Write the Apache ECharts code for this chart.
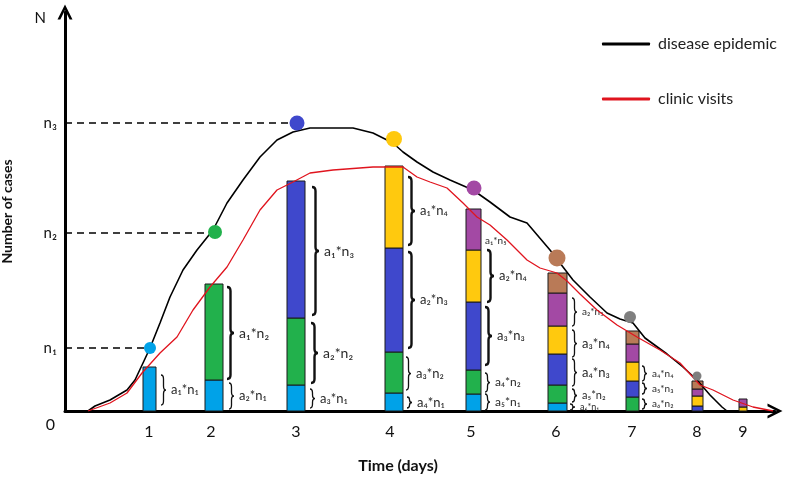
<!DOCTYPE html>
<html><head><meta charset="utf-8">
<script src="https://cdn.jsdelivr.net/npm/echarts@6/dist/echarts.min.js"></script>
<style>html,body{margin:0;padding:0;background:#fff}#c{width:787px;height:477px}</style>
</head><body><div id="c"></div>
<script>
// ---------- DATA (x: time units along the axis, y: number of cases) ----------
const days = ['1','2','3','4','5','6','7','8','9'];
const dayLabelPos = [84,146,231,325,406,491,567,632,678];
const barPos = [84.5,149,231,329,408.5,492.5,567.5,632.5,678];
// stacked segment heights per bar (bottom -> top)
const segCyan   = [44,31,26,18,17,8,0,0,0];
const segGreen  = [0,96,67,41,24,18,14,0,0];
const segBlue   = [0,0,137,104,68,31,16,5,0];
const segYellow = [0,0,0,82,52,28,19,10,4];
const segPurple = [0,0,0,0,41,33,18,7,8];
const segBrown  = [0,0,0,0,0,20,13,8,0];
// reference levels on the y axis
const levelLabels = ['n₁','n₂','n₃'];
const levelValues = [63,178,288];
// daily epidemic points (dots)
const peakPos   = [85,150,232,329,409,492,565,632];
const peakValue = [63,179,288,272,223,153,94,35];
// curves
const epidemicX = [23,30,45,62,70,78,85,95,105,118,132,148,162,178,195,212,228,245,265,288,308,328,338,352,368,385,408,425,445,462,485,498,508,525,542,555,568,580,602,618,632,645,657,662];
const epidemicY = [0,5,11,21,31,48,63,88,114,141,161,181,208,231,254,271,279,283,283,283,278,268,259,249,239,231,221,209,194,188,161,144,131,114,98,92,88,73,57,44,31,16,4,0];
const visitsX = [23,45,62,77,95,112,128,145,162,178,195,212,228,245,268,308,338,352,365,382,398,412,425,442,462,475,492,502,515,532,552,572,595,615,635,648,668,688,708];
const visitsY = [0,8,18,38,58,74,101,124,144,171,201,221,229,238,241,244,244,234,229,223,208,194,186,171,151,143,138,130,117,101,86,74,61,48,26,21,11,4,0];
// brace annotations: left x, top, bottom, text (top==bottom -> text only)
const braceX      = [96,162,164,247,246,245,343,343,341,342,420,422,420,420,420,507,507,507,507,505,577,577,577];
const braceTop    = [36,124,28,224,88,22,234,159,54,14,170,161,104,38,17,113,81,52,22,7,45,28,12];
const braceBottom = [6,32,2,96,28,3,166,63,21,3,170,109,46,19,1,85,54,25,9,1,30,17,2];
const braceText   = ['a₁*n₁','a₁*n₂','a₂*n₁','a₁*n₃','a₂*n₂','a₃*n₁','a₁*n₄','a₂*n₃','a₃*n₂','a₄*n₁','a₁*n₅','a₂*n₄','a₃*n₃','a₄*n₂','a₅*n₁','a₂*n₅','a₃*n₄','a₄*n₃','a₅*n₂','a₆*n₁','a₄*n₄','a₅*n₃','a₆*n₂'];

// ---------- STYLE ----------
const FONT = 'Lato, "Open Sans", sans-serif';
const barPixelWidth = [13,18,18,18,15,19,13,11,8];
const segColors = ['#00a2e8','#22b14c','#3f48cc','#ffc90e','#a349a4','#b97a57'];
const dotColors = ['#00a2e8','#22b14c','#3f48cc','#ffc90e','#a349a4','#b97a57','#7f7f7f','#7f7f7f'];
const dotSizes = [12,14,15,16,15,17,12,9];
const braceFont = [13,14,13,14,14,13,13,13,13,13,10,13,13,12,12,10,13,13,11,9,10,10,10];
const chevron = 'path://M0,100 L50,0 L100,100 L81,100 L50,37 L19,100 Z';

const segs = [segCyan, segGreen, segBlue, segYellow, segPurple, segBrown];
const cum = days.map(() => 0);
const barSeries = segs.map((arr, k) => {
  const data = arr.map((h, i) => {
    const y0 = cum[i]; cum[i] += h;
    return [barPos[i], y0, cum[i], i];
  }).filter(d => d[2] > d[1]);
  return {
    type: 'custom', name: 'seg' + k, z: 2, silent: true,
    encode: {x: 0, y: [1, 2]},
    data,
    renderItem(params, api) {
      const x = api.value(0), y0 = api.value(1), y1 = api.value(2), i = api.value(3);
      const p0 = api.coord([x, y0]), p1 = api.coord([x, y1]);
      const w = barPixelWidth[i];
      return {type: 'rect', shape: {x: p0[0] - w / 2, y: p1[1], width: w, height: p0[1] - p1[1]},
        style: {fill: segColors[k], stroke: '#1a1a1a', lineWidth: 1}};
    }
  };
});

const braceSeries = {
  type: 'custom', name: 'braces', z: 3, silent: true,
  encode: {x: 0, y: [1, 2]},
  data: braceX.map((x, i) => [x, braceTop[i], braceBottom[i], i]),
  renderItem(params, api) {
    const i = api.value(3);
    const pt = api.coord([api.value(0), api.value(1)]);
    const pb = api.coord([api.value(0), api.value(2)]);
    const children = [];
    const h = pb[1] - pt[1];
    const bw = h > 45 ? 7 : 5;
    if (h > 0.5) {
      const x = pt[0], xm = x + bw / 2, xr = x + bw, yt = pt[1], yb = pb[1], ym = (yt + yb) / 2;
      const r = Math.min(4, h / 4);
      const d = `M${x},${yt} Q${xm},${yt} ${xm},${yt + r} L${xm},${ym - r} Q${xm},${ym} ${xr},${ym} Q${xm},${ym} ${xm},${ym + r} L${xm},${yb - r} Q${xm},${yb} ${x},${yb}`;
      children.push({type: 'path', shape: {pathData: d},
        style: {fill: 'none', stroke: '#111', lineWidth: h > 45 ? 2.4 : 1.3}});
    }
    children.push({type: 'text', style: {
      text: braceText[i], x: pt[0] + (h > 0.5 ? bw + 5 : 0), y: (pt[1] + pb[1]) / 2,
      fill: '#2a2a2a', font: `${braceFont[i]}px ${FONT}`, verticalAlign: 'middle', align: 'left'}});
    return {type: 'group', children};
  }
};

const dashed = levelValues.map((v, i) => ({
  type: 'line', name: 'lvl' + i, silent: true, symbol: 'none', z: 1,
  data: [[0, v], [peakPos[i], v]],
  lineStyle: {color: '#000', width: 1.3, type: [7, 5]}
}));

const chart = echarts.init(document.getElementById('c'), null, {renderer: 'canvas'});
chart.setOption({
  animation: false,
  backgroundColor: '#fff',
  textStyle: {fontFamily: FONT},
  grid: {left: 65, right: 12, top: 12, bottom: 66, containLabel: false, outerBoundsMode: 'none'},
  legend: {
    data: ['disease epidemic', 'clinic visits'], orient: 'vertical', left: 597, top: 31,
    icon: 'roundRect', itemWidth: 48, itemHeight: 3, itemGap: 39,
    textStyle: {fontSize: 16, color: '#222', fontFamily: FONT, padding: [0, 0, 0, 3]},
    selectedMode: false
  },
  xAxis: {
    type: 'value', min: 0, max: 710,
    name: 'Time (days)', nameLocation: 'middle', nameGap: 47,
    nameTextStyle: {fontSize: 16, fontWeight: 'bold', color: '#111', padding: [0, 44, 0, 0]},
    axisLine: {onZero: true, lineStyle: {color: '#000', width: 3}, symbol: ['none', chevron], symbolSize: [21, 15]},
    axisTick: {show: false}, splitLine: {show: false},
    axisLabel: {customValues: dayLabelPos, formatter: v => days[dayLabelPos.indexOf(v)] || '',
      fontSize: 16, color: '#111', margin: 13}
  },
  yAxis: {
    type: 'value', min: 0, max: 399,
    name: 'Number of cases', nameLocation: 'middle', nameGap: 51, nameRotate: 90,
    nameTextStyle: {fontSize: 14, fontWeight: 'bold', color: '#111'},
    axisLine: {lineStyle: {color: '#000', width: 3}, symbol: ['none', chevron], symbolSize: [24, 15]},
    axisTick: {show: false}, splitLine: {show: false},
    axisLabel: {customValues: [0].concat(levelValues, [393]), margin: 8, fontSize: 15, color: '#111',
      formatter: v => {
        if (v === 0) return '{z|0}';
        if (v === 393) return '{t|N}';
        return levelLabels[levelValues.indexOf(v)];
      },
      rich: {z: {fontSize: 16, color: '#111', padding: [28, 2, 0, 0]}, t: {fontSize: 15, color: '#111', padding: [0, 11, 0, 0]}}
    }
  },
  series: [
    ...barSeries,
    ...dashed,
    {type: 'line', name: 'disease epidemic', data: epidemicX.map((x, i) => [x, epidemicY[i]]),
      symbol: 'none', z: 4, lineStyle: {color: '#000', width: 1.6}, itemStyle: {color: '#000'}},
    {type: 'line', name: 'clinic visits', data: visitsX.map((x, i) => [x, visitsY[i]]),
      symbol: 'none', z: 4, lineStyle: {color: '#e0141e', width: 1.3}, itemStyle: {color: '#e0141e'}},
    {type: 'scatter', name: 'peaks', z: 5, silent: true,
      data: peakPos.map((x, i) => ({value: [x, peakValue[i]], symbolSize: dotSizes[i], itemStyle: {color: dotColors[i], opacity: 1}}))},
    braceSeries
  ]
});
</script></body></html>
